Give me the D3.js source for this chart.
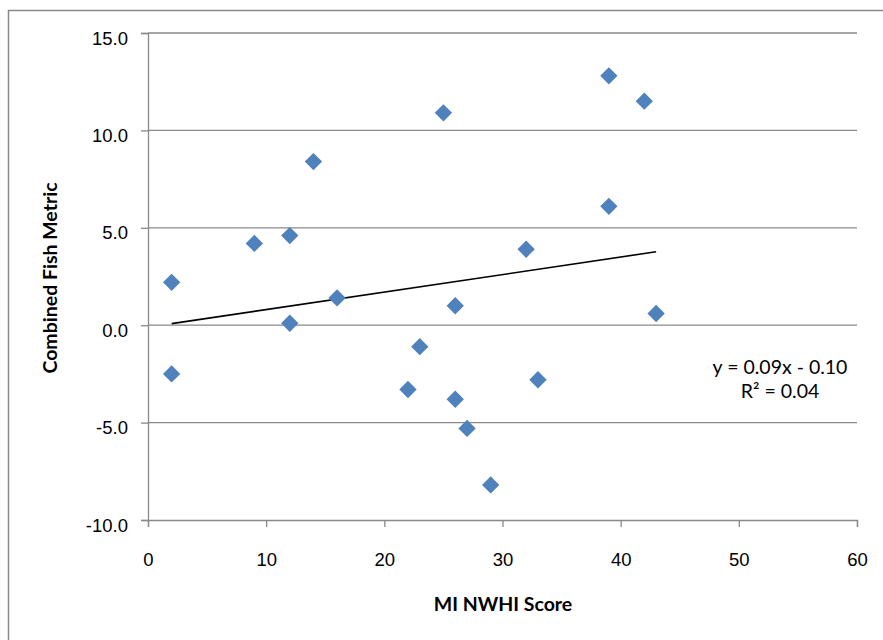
<!DOCTYPE html>
<html>
<head>
<meta charset="utf-8">
<script src="https://cdn.jsdelivr.net/npm/d3@7"></script>
<style>
  body { margin: 0; background: #fff; }
  svg { display: block; font-family: Lato, "Open Sans", sans-serif; }
  .tick-label { font-size: 18.5px; fill: #000; }
  .eq-label { font-size: 19.5px; fill: #000; }
  .axis-title { font-size: 19.5px; font-weight: bold; fill: #000; }
</style>
</head>
<body>
<svg id="chart" width="883" height="640"></svg>
<script>
// MI NWHI score vs combined fish metric
const nwhiScore = [2, 2, 9, 12, 12, 14, 16, 22, 23, 25, 26, 26, 27, 29, 32, 33, 39, 39, 42, 43];
const fishMetric = [2.2, -2.5, 4.2, 4.6, 0.1, 8.4, 1.4, -3.3, -1.1, 10.9, 1.0, -3.8, -5.3, -8.2, 3.9, -2.8, 12.8, 6.1, 11.5, 0.6];

const xTicks = [0, 10, 20, 30, 40, 50, 60];
const yTicks = [-10, -5, 0, 5, 10, 15];

// linear trend as printed on the chart
const trendSlope = 0.09;
const trendIntercept = -0.1;
const trendLabel = ["y = 0.09x - 0.10", "R² = 0.04"];

const PLOT = { left: 148, right: 857, top: 33, bottom: 520 };
const GRID = "#898989";
const BLUE = "#4F81BD";

const svg = d3.select("#chart");

const x = d3.scaleLinear().domain([0, 60]).range([PLOT.left, PLOT.right]);
const y = d3.scaleLinear().domain([-10, 15]).range([PLOT.bottom, PLOT.top]);

// outer chart border
svg
  .append("rect")
  .attr("x", 8.5)
  .attr("y", 10.5)
  .attr("width", 900)
  .attr("height", 700)
  .attr("fill", "none")
  .attr("stroke", GRID)
  .attr("stroke-width", 1.5);

// horizontal gridlines
svg
  .append("g")
  .selectAll("line")
  .data(yTicks.filter((d) => d > -10))
  .join("line")
  .attr("x1", PLOT.left)
  .attr("x2", PLOT.right)
  .attr("y1", (d) => y(d))
  .attr("y2", (d) => y(d))
  .attr("stroke", GRID)
  .attr("stroke-width", 1.3);

// y axis (plain hyphen for negatives, like the original)
const yAxis = svg
  .append("g")
  .attr("transform", `translate(${PLOT.left},0)`)
  .call(d3.axisLeft(y).tickValues(yTicks).tickSize(7).tickFormat((d) => d.toFixed(1)));

yAxis.select(".domain").attr("stroke", GRID).attr("stroke-width", 1.3);
yAxis.selectAll(".tick line").attr("stroke", GRID).attr("stroke-width", 1.3);
yAxis
  .selectAll(".tick text")
  .attr("class", "tick-label")
  .attr("x", -20)
  .attr("dy", "0.6em")
  .attr("font-family", null)
  .attr("font-size", null);

// x axis
const xAxis = svg
  .append("g")
  .attr("transform", `translate(0,${PLOT.bottom})`)
  .call(d3.axisBottom(x).tickValues(xTicks).tickSize(7).tickFormat((d) => String(d)));

xAxis.select(".domain").attr("stroke", GRID).attr("stroke-width", 1.3);
xAxis.selectAll(".tick line").attr("stroke", GRID).attr("stroke-width", 1.3);
xAxis
  .selectAll(".tick text")
  .attr("class", "tick-label")
  .attr("y", 46)
  .attr("dy", null)
  .attr("font-family", null)
  .attr("font-size", null);

// trendline over the x range of the data
const [xMin, xMax] = d3.extent(nwhiScore);
svg
  .append("line")
  .attr("x1", x(xMin))
  .attr("y1", y(trendSlope * xMin + trendIntercept))
  .attr("x2", x(xMax))
  .attr("y2", y(trendSlope * xMax + trendIntercept))
  .attr("stroke", "#000")
  .attr("stroke-width", 1.6);

// diamond markers
const diamond = d3.symbol(d3.symbolSquare, 150);
svg
  .append("g")
  .selectAll("path")
  .data(d3.range(nwhiScore.length))
  .join("path")
  .attr("d", diamond)
  .attr("transform", (i) => `translate(${x(nwhiScore[i])},${y(fishMetric[i])}) rotate(45)`)
  .attr("fill", BLUE);

// equation label
svg
  .append("g")
  .selectAll("text")
  .data(trendLabel)
  .join("text")
  .attr("class", "eq-label")
  .attr("x", 780)
  .attr("y", (d, i) => 374 + i * 24)
  .attr("text-anchor", "middle")
  .text((d) => d);

// axis titles
svg
  .append("text")
  .attr("class", "axis-title")
  .attr("x", 503)
  .attr("y", 611)
  .attr("text-anchor", "middle")
  .text("MI NWHI Score");

svg
  .append("text")
  .attr("class", "axis-title")
  .attr("transform", "translate(57,278) rotate(-90)")
  .attr("text-anchor", "middle")
  .text("Combined Fish Metric");
</script>
</body>
</html>
